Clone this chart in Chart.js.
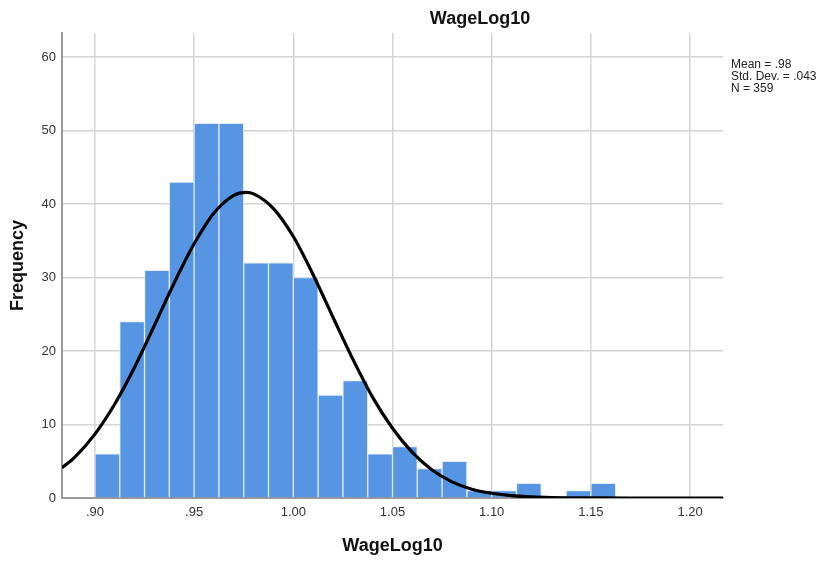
<!DOCTYPE html>
<html>
<head>
<meta charset="utf-8">
<script src="https://cdn.jsdelivr.net/npm/chart.js@4"></script>
<style>
    html, body { margin: 0; padding: 0; background: #fff; }
    #wrap { position: relative; width: 823px; height: 561px; }
</style>
</head>
<body>
<div id="wrap"><canvas id="histogram" width="823" height="561"></canvas></div>
<script>
// Histogram bins (left edge of each bin) and counts
const binWidth = 0.0125;
const binStarts = [0.9000, 0.9125, 0.9250, 0.9375, 0.9500, 0.9625, 0.9750, 0.9875, 1.0000, 1.0125,
                   1.0250, 1.0375, 1.0500, 1.0625, 1.0750, 1.0875, 1.1000, 1.1125, 1.1250, 1.1375, 1.1500];
const binCounts = [6, 24, 31, 43, 51, 51, 32, 32, 30, 14,
                   16, 6, 7, 4, 5, 1, 1, 2, 0, 1, 2];

// Fitted normal curve, sampled along the axis
const curveX = [0.8834, 0.89, 0.90, 0.91, 0.92, 0.93, 0.94, 0.95, 0.96, 0.97, 0.976, 0.98, 0.99,
                1.00, 1.01, 1.02, 1.03, 1.04, 1.05, 1.06, 1.07, 1.08, 1.09, 1.10, 1.11, 1.12,
                1.13, 1.14, 1.15, 1.17, 1.19, 1.2166];
const curveY = [4.1, 5.6, 8.7, 12.8, 17.8, 23.5, 29.3, 34.6, 38.8, 41.2, 41.6, 41.4, 39.4,
                35.6, 30.4, 24.6, 18.9, 13.7, 9.5, 6.2, 3.8, 2.2, 1.2, 0.65, 0.32, 0.15,
                0.06, 0.02, 0.01, 0, 0, 0];

// Axis ticks
const xTicks = [0.90, 0.95, 1.00, 1.05, 1.10, 1.15, 1.20];
const xTickLabels = ['.90', '.95', '1.00', '1.05', '1.10', '1.15', '1.20'];
const yTicks = [0, 10, 20, 30, 40, 50, 60];

const chartTitle = 'WageLog10';
const statLines = ['Mean = .98', 'Std. Dev. = .043', 'N = 359'];

const FONT = 'Arial, "Liberation Sans", sans-serif';

// Title above the plot and the summary box on the right
const annotations = {
    id: 'annotations',
    afterDraw(chart) {
        const ctx = chart.ctx;
        ctx.save();
        ctx.fillStyle = '#111';
        ctx.font = 'bold 18px ' + FONT;
        ctx.textAlign = 'center';
        ctx.textBaseline = 'middle';
        ctx.fillText(chartTitle, 480, 19);

        ctx.font = '12px ' + FONT;
        ctx.fillStyle = '#222';
        ctx.textAlign = 'left';
        statLines.forEach((line, i) => {
            ctx.fillText(line, 731, 65 + i * 12);
        });
        ctx.restore();
    }
};

const bars = binStarts.map((start, i) => ({ x: start + binWidth / 2, y: binCounts[i] }));
const curve = curveX.map((x, i) => ({ x: x, y: curveY[i] }));

new Chart(document.getElementById('histogram'), {
    type: 'bar',
    data: {
        datasets: [
            {
                type: 'line',
                data: curve,
                borderColor: '#000',
                borderWidth: 3.2,
                pointRadius: 0,
                cubicInterpolationMode: 'monotone',
                order: 0
            },
            {
                type: 'bar',
                data: bars,
                backgroundColor: '#5595e4',
                borderColor: 'rgba(225, 236, 250, 0.9)',
                borderWidth: 1,
                borderSkipped: 'bottom',
                barPercentage: 1,
                categoryPercentage: 1,
                order: 1
            }
        ]
    },
    options: {
        responsive: false,
        animation: false,
        layout: {
            padding: { left: 0, top: 33, right: 100, bottom: 0 }
        },
        plugins: {
            legend: { display: false },
            tooltip: { enabled: false }
        },
        scales: {
            x: {
                type: 'linear',
                min: 0.8834,
                max: 1.2166,
                offset: false,
                afterBuildTicks: (scale) => {
                    scale.ticks = xTicks.map(v => ({ value: v }));
                },
                afterFit: (scale) => { scale.height = 63; },
                grid: { color: '#d4d4d4', lineWidth: 1.5, drawTicks: false, offset: false },
                border: { display: true, color: '#999', width: 2 },
                ticks: {
                    padding: 7,
                    color: '#333',
                    font: { family: FONT, size: 13 },
                    callback: (value) => xTickLabels[xTicks.indexOf(value)]
                },
                title: {
                    display: true,
                    text: 'WageLog10',
                    color: '#111',
                    font: { family: FONT, size: 18, weight: 'bold' },
                    padding: { top: 0, bottom: 4 }
                }
            },
            y: {
                min: 0,
                max: 63.3,
                afterBuildTicks: (scale) => {
                    scale.ticks = yTicks.map(v => ({ value: v }));
                },
                afterFit: (scale) => { scale.width = 62; },
                grid: { color: '#d4d4d4', lineWidth: 1.5, drawTicks: false },
                border: { display: true, color: '#999', width: 2 },
                ticks: {
                    padding: 6,
                    color: '#333',
                    font: { family: FONT, size: 13 }
                },
                title: {
                    display: true,
                    text: 'Frequency',
                    color: '#111',
                    font: { family: FONT, size: 18, weight: 'bold' },
                    padding: { top: 7, bottom: 0 }
                }
            }
        }
    },
    plugins: [annotations]
});
</script>
</body>
</html>
